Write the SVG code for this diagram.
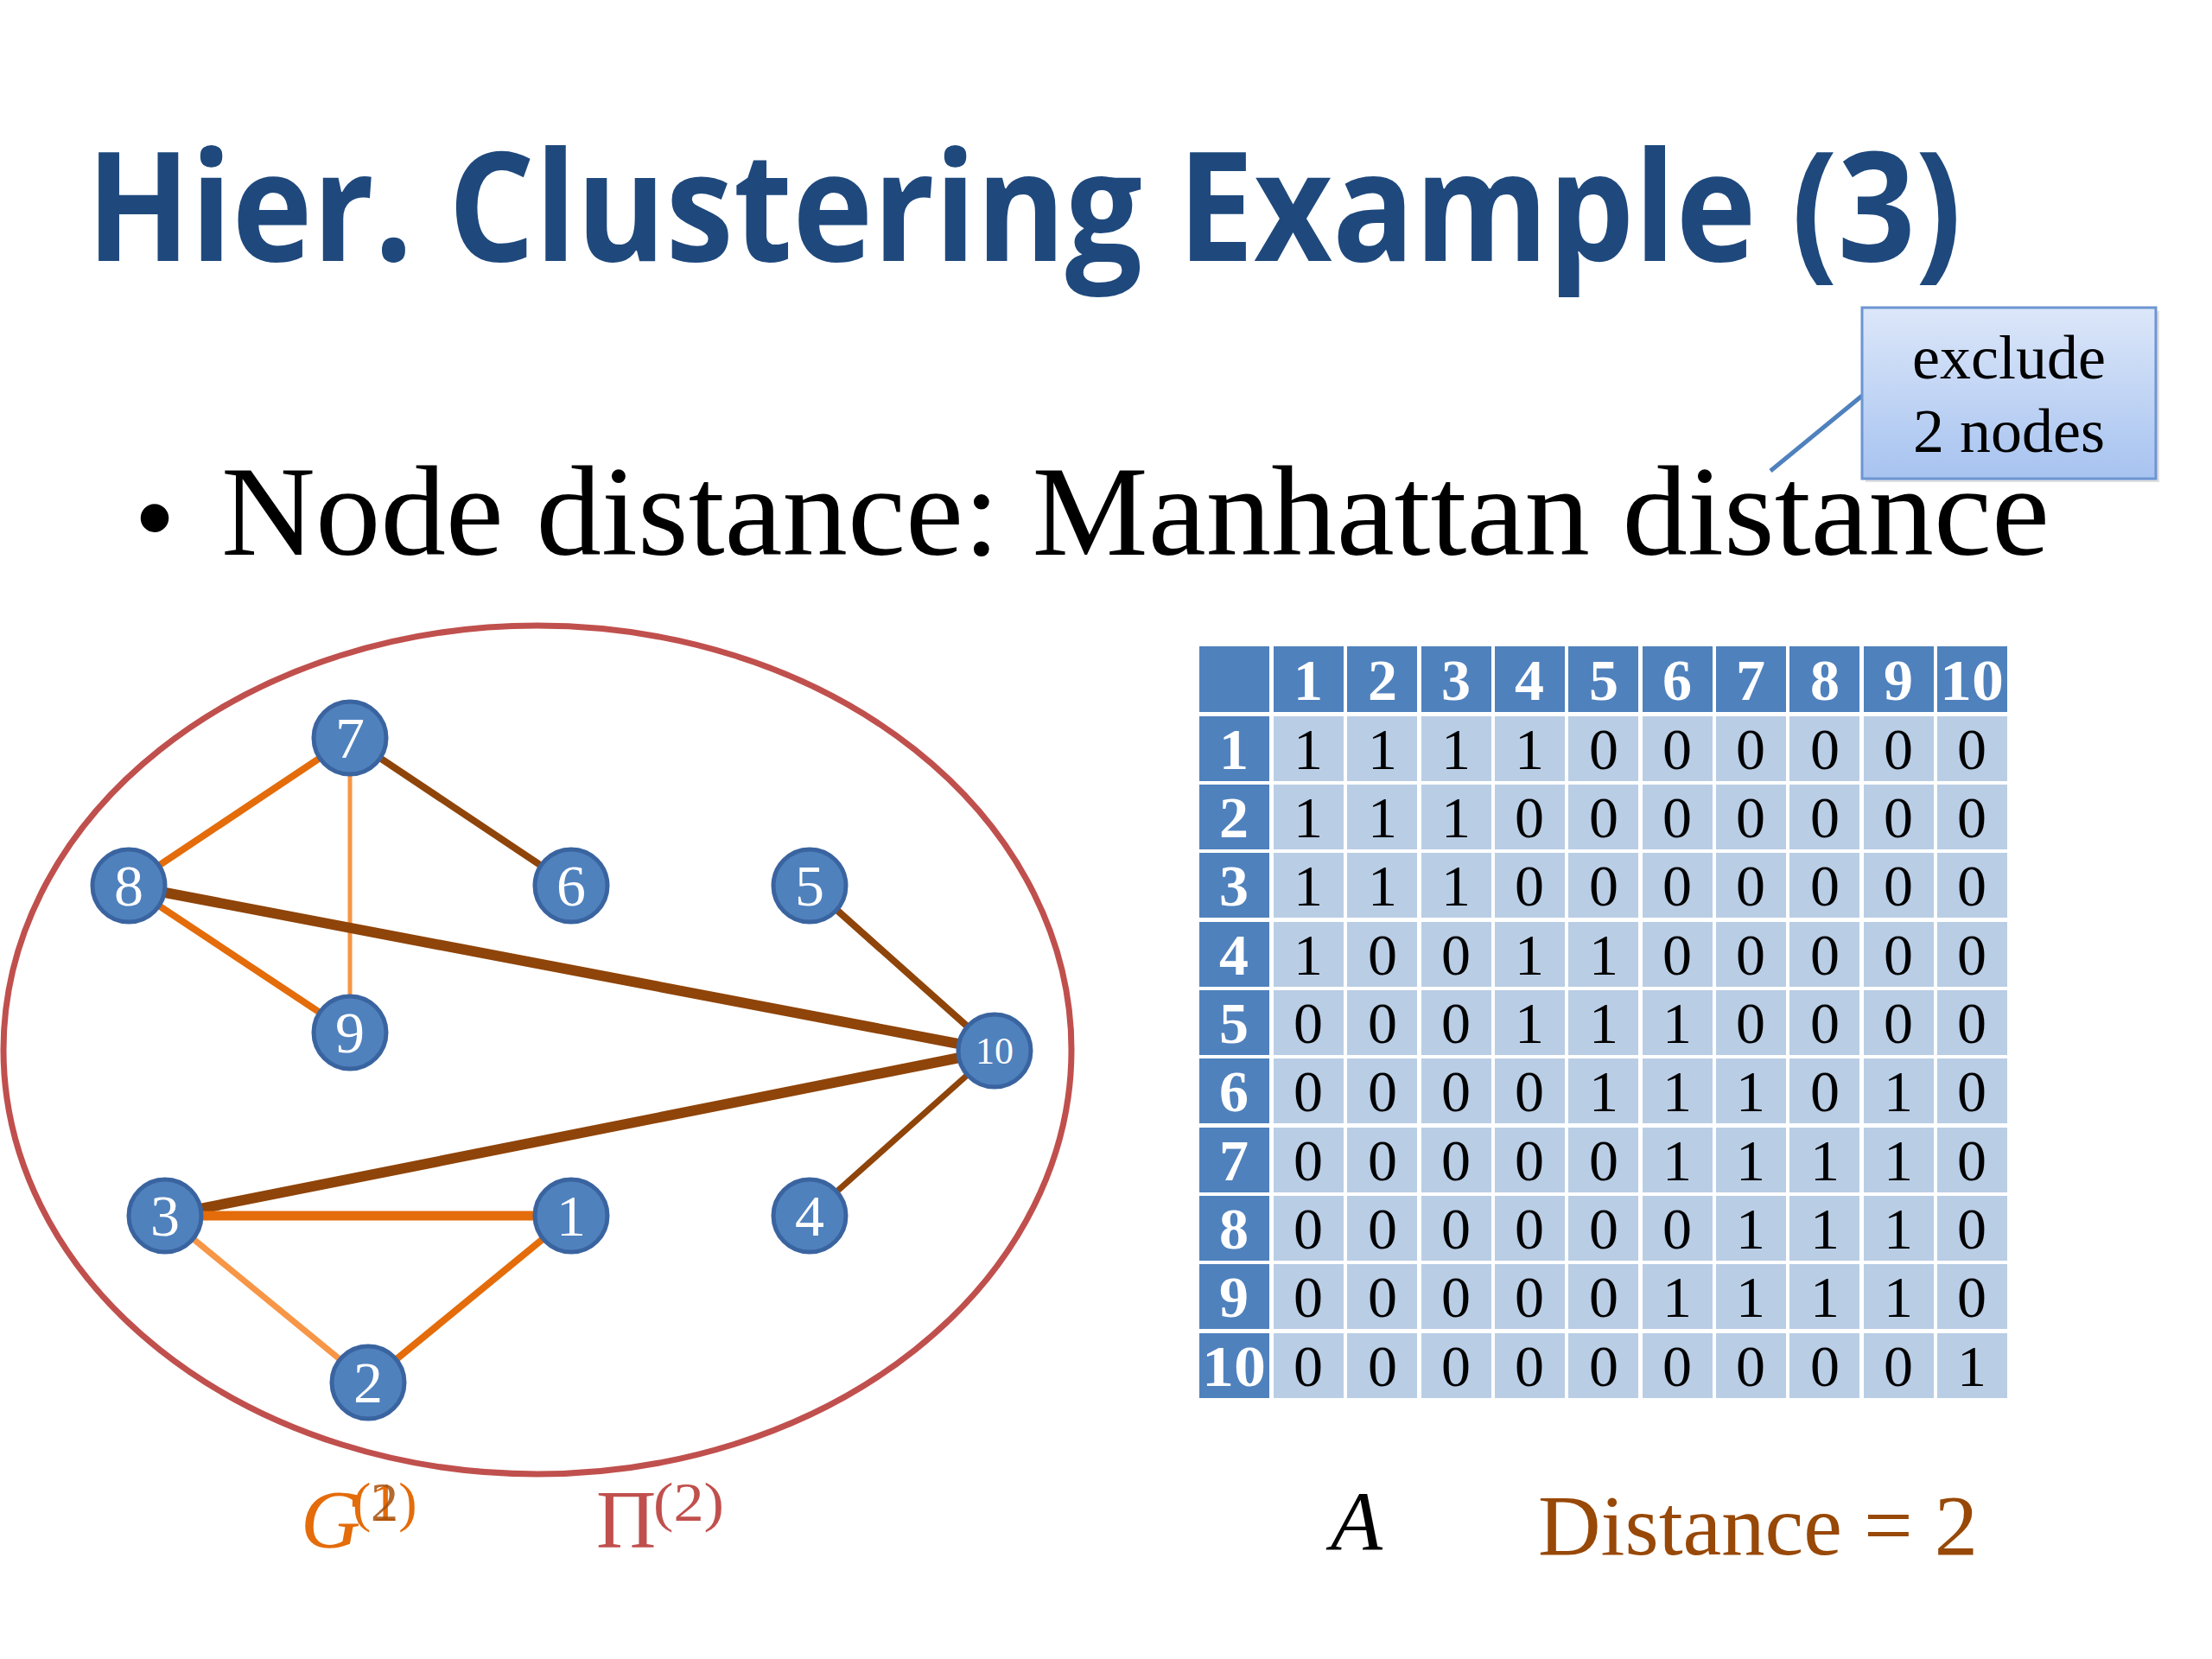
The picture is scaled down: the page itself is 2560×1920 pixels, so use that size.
<svg xmlns="http://www.w3.org/2000/svg" width="2560" height="1920" viewBox="0 0 2560 1920">
<defs>
<linearGradient id="cg" x1="0" y1="0" x2="0" y2="1">
<stop offset="0" stop-color="#dce7f9"/>
<stop offset="1" stop-color="#a7c3f0"/>
</linearGradient>
<style>
.nd{fill:#4f81bd;stroke:#3a64a0;stroke-width:5}
.nt{font-family:"Liberation Serif","DejaVu Serif",serif;font-size:68px;fill:#ffffff;text-anchor:middle}
.nt.sm{font-size:44px}
.br{stroke:#8f4409;fill:none}
.or{stroke:#e46c0a;fill:none}
.lo{stroke:#f79646;fill:none}
.hc{fill:#4f81bd}
.bc{fill:#b9cde5}
.ht{font-family:"Liberation Serif","DejaVu Serif",serif;font-size:68px;font-weight:bold;fill:#ffffff;text-anchor:middle}
.bt{font-family:"Liberation Serif","DejaVu Serif",serif;font-size:68px;fill:#000000;text-anchor:middle}
</style>
</defs>
<rect width="2560" height="1920" fill="#ffffff"/>

<text x="100" y="302" font-family="'Open Sans','Lato',sans-serif" font-weight="bold" font-size="176" fill="#1f497d" textLength="2170" lengthAdjust="spacingAndGlyphs">Hier. Clustering Example (3)</text>

<text x="158" y="640" font-family="'Liberation Sans',sans-serif" font-size="120" fill="#000">•</text>
<text x="256" y="642" font-family="'Liberation Serif','DejaVu Serif',serif" font-size="148" fill="#000" textLength="2116" lengthAdjust="spacingAndGlyphs">Node distance: Manhattan distance</text>

<g id="callout">
<line x1="2155" y1="458" x2="2049" y2="545" stroke="#4f81bd" stroke-width="5"/>
<rect x="2159" y="360" width="340" height="198" fill="#000" opacity="0.12"/>
<rect x="2155" y="356" width="340" height="198" fill="url(#cg)" stroke="#6d95d2" stroke-width="3"/>
<text x="2325" y="438" font-family="'Liberation Serif','DejaVu Serif',serif" font-size="72" fill="#000" text-anchor="middle">exclude</text>
<text x="2325" y="523" font-family="'Liberation Serif','DejaVu Serif',serif" font-size="72" fill="#000" text-anchor="middle">2 nodes</text>
</g>

<g id="cluster">
<ellipse cx="622" cy="1215" rx="618" ry="491" fill="none" stroke="#c0504d" stroke-width="7"/>
</g>

<g id="connectors">
<line class="or" x1="405" y1="854" x2="149" y2="1025" stroke-width="8"/>
<line class="lo" x1="405" y1="854" x2="405" y2="1195" stroke-width="5"/>
<line class="br" x1="405" y1="854" x2="661" y2="1025" stroke-width="8"/>
<line class="or" x1="149" y1="1025" x2="405" y2="1195" stroke-width="8"/>
<line class="br" x1="149" y1="1025" x2="1151" y2="1216" stroke-width="12"/>
<line class="br" x1="937" y1="1025" x2="1151" y2="1216" stroke-width="8"/>
<line class="br" x1="1151" y1="1216" x2="191" y2="1407" stroke-width="12"/>
<line class="br" x1="1151" y1="1216" x2="937" y2="1407" stroke-width="7"/>
<line class="or" x1="191" y1="1407" x2="661" y2="1407" stroke-width="11"/>
<line class="lo" x1="191" y1="1407" x2="426" y2="1600" stroke-width="7"/>
<line class="or" x1="661" y1="1407" x2="426" y2="1600" stroke-width="8"/>
</g>

<g id="n7"><circle class="nd" cx="405" cy="854" r="42"/><text class="nt" x="405" y="877">7</text></g>
<g id="n8"><circle class="nd" cx="149" cy="1025" r="42"/><text class="nt" x="149" y="1048">8</text></g>
<g id="n6"><circle class="nd" cx="661" cy="1025" r="42"/><text class="nt" x="661" y="1048">6</text></g>
<g id="n5"><circle class="nd" cx="937" cy="1025" r="42"/><text class="nt" x="937" y="1048">5</text></g>
<g id="n9"><circle class="nd" cx="405" cy="1195" r="42"/><text class="nt" x="405" y="1218">9</text></g>
<g id="n10"><circle class="nd" cx="1151" cy="1216" r="42"/><text class="nt sm" x="1151" y="1231">10</text></g>
<g id="n3"><circle class="nd" cx="191" cy="1407" r="42"/><text class="nt" x="191" y="1430">3</text></g>
<g id="n1"><circle class="nd" cx="661" cy="1407" r="42"/><text class="nt" x="661" y="1430">1</text></g>
<g id="n4"><circle class="nd" cx="937" cy="1407" r="42"/><text class="nt" x="937" y="1430">4</text></g>
<g id="n2"><circle class="nd" cx="426" cy="1600" r="42"/><text class="nt" x="426" y="1623">2</text></g>

<g id="labels">
<text x="348" y="1791" font-family="'Liberation Serif','DejaVu Serif',serif" font-style="italic" font-size="96" fill="#e46c0a">G</text>
<text x="408" y="1760" font-family="'Liberation Serif','DejaVu Serif',serif" font-size="64" fill="#e46c0a">(1)</text>
<text x="429" y="1760" font-family="'Liberation Serif','DejaVu Serif',serif" font-size="64" fill="#a64f0b" opacity="0.85">2</text>
<text x="690" y="1791" font-family="'Liberation Serif','DejaVu Serif',serif" font-size="96" fill="#c0504d">Π</text>
<text x="756" y="1760" font-family="'Liberation Serif','DejaVu Serif',serif" font-size="64" fill="#c0504d" textLength="82" lengthAdjust="spacingAndGlyphs">(2)</text>
<text x="1540" y="1793" font-family="'Liberation Serif','DejaVu Serif',serif" font-style="italic" font-size="98" fill="#000">A</text>
<text x="1780" y="1799" font-family="'Liberation Serif','DejaVu Serif',serif" font-size="100" fill="#984807" textLength="509" lengthAdjust="spacingAndGlyphs">Distance = 2</text>
</g>

<g id="matrix">
<rect class="hc" x="1388" y="748" width="81" height="76"/>
<rect class="hc" x="1474" y="748" width="81" height="76"/><text class="ht" x="1514" y="810">1</text>
<rect class="hc" x="1559" y="748" width="81" height="76"/><text class="ht" x="1600" y="810">2</text>
<rect class="hc" x="1645" y="748" width="81" height="76"/><text class="ht" x="1685" y="810">3</text>
<rect class="hc" x="1730" y="748" width="81" height="76"/><text class="ht" x="1770" y="810">4</text>
<rect class="hc" x="1815" y="748" width="81" height="76"/><text class="ht" x="1856" y="810">5</text>
<rect class="hc" x="1901" y="748" width="81" height="76"/><text class="ht" x="1941" y="810">6</text>
<rect class="hc" x="1986" y="748" width="81" height="76"/><text class="ht" x="2026" y="810">7</text>
<rect class="hc" x="2071" y="748" width="81" height="76"/><text class="ht" x="2112" y="810">8</text>
<rect class="hc" x="2157" y="748" width="81" height="76"/><text class="ht" x="2197" y="810">9</text>
<rect class="hc" x="2242" y="748" width="81" height="76"/><text class="ht" x="2282" y="810" textLength="74" lengthAdjust="spacingAndGlyphs">10</text>

<g id="row1">
<rect class="hc" x="1388" y="829" width="81" height="75"/><text class="ht" x="1428" y="890">1</text>
<rect class="bc" x="1474" y="829" width="81" height="75"/><text class="bt" x="1514" y="890">1</text>
<rect class="bc" x="1559" y="829" width="81" height="75"/><text class="bt" x="1600" y="890">1</text>
<rect class="bc" x="1645" y="829" width="81" height="75"/><text class="bt" x="1685" y="890">1</text>
<rect class="bc" x="1730" y="829" width="81" height="75"/><text class="bt" x="1770" y="890">1</text>
<rect class="bc" x="1815" y="829" width="81" height="75"/><text class="bt" x="1856" y="890">0</text>
<rect class="bc" x="1901" y="829" width="81" height="75"/><text class="bt" x="1941" y="890">0</text>
<rect class="bc" x="1986" y="829" width="81" height="75"/><text class="bt" x="2026" y="890">0</text>
<rect class="bc" x="2071" y="829" width="81" height="75"/><text class="bt" x="2112" y="890">0</text>
<rect class="bc" x="2157" y="829" width="81" height="75"/><text class="bt" x="2197" y="890">0</text>
<rect class="bc" x="2242" y="829" width="81" height="75"/><text class="bt" x="2282" y="890">0</text>
</g>
<g id="row2">
<rect class="hc" x="1388" y="908" width="81" height="75"/><text class="ht" x="1428" y="969">2</text>
<rect class="bc" x="1474" y="908" width="81" height="75"/><text class="bt" x="1514" y="969">1</text>
<rect class="bc" x="1559" y="908" width="81" height="75"/><text class="bt" x="1600" y="969">1</text>
<rect class="bc" x="1645" y="908" width="81" height="75"/><text class="bt" x="1685" y="969">1</text>
<rect class="bc" x="1730" y="908" width="81" height="75"/><text class="bt" x="1770" y="969">0</text>
<rect class="bc" x="1815" y="908" width="81" height="75"/><text class="bt" x="1856" y="969">0</text>
<rect class="bc" x="1901" y="908" width="81" height="75"/><text class="bt" x="1941" y="969">0</text>
<rect class="bc" x="1986" y="908" width="81" height="75"/><text class="bt" x="2026" y="969">0</text>
<rect class="bc" x="2071" y="908" width="81" height="75"/><text class="bt" x="2112" y="969">0</text>
<rect class="bc" x="2157" y="908" width="81" height="75"/><text class="bt" x="2197" y="969">0</text>
<rect class="bc" x="2242" y="908" width="81" height="75"/><text class="bt" x="2282" y="969">0</text>
</g>
<g id="row3">
<rect class="hc" x="1388" y="987" width="81" height="75"/><text class="ht" x="1428" y="1048">3</text>
<rect class="bc" x="1474" y="987" width="81" height="75"/><text class="bt" x="1514" y="1048">1</text>
<rect class="bc" x="1559" y="987" width="81" height="75"/><text class="bt" x="1600" y="1048">1</text>
<rect class="bc" x="1645" y="987" width="81" height="75"/><text class="bt" x="1685" y="1048">1</text>
<rect class="bc" x="1730" y="987" width="81" height="75"/><text class="bt" x="1770" y="1048">0</text>
<rect class="bc" x="1815" y="987" width="81" height="75"/><text class="bt" x="1856" y="1048">0</text>
<rect class="bc" x="1901" y="987" width="81" height="75"/><text class="bt" x="1941" y="1048">0</text>
<rect class="bc" x="1986" y="987" width="81" height="75"/><text class="bt" x="2026" y="1048">0</text>
<rect class="bc" x="2071" y="987" width="81" height="75"/><text class="bt" x="2112" y="1048">0</text>
<rect class="bc" x="2157" y="987" width="81" height="75"/><text class="bt" x="2197" y="1048">0</text>
<rect class="bc" x="2242" y="987" width="81" height="75"/><text class="bt" x="2282" y="1048">0</text>
</g>
<g id="row4">
<rect class="hc" x="1388" y="1067" width="81" height="75"/><text class="ht" x="1428" y="1128">4</text>
<rect class="bc" x="1474" y="1067" width="81" height="75"/><text class="bt" x="1514" y="1128">1</text>
<rect class="bc" x="1559" y="1067" width="81" height="75"/><text class="bt" x="1600" y="1128">0</text>
<rect class="bc" x="1645" y="1067" width="81" height="75"/><text class="bt" x="1685" y="1128">0</text>
<rect class="bc" x="1730" y="1067" width="81" height="75"/><text class="bt" x="1770" y="1128">1</text>
<rect class="bc" x="1815" y="1067" width="81" height="75"/><text class="bt" x="1856" y="1128">1</text>
<rect class="bc" x="1901" y="1067" width="81" height="75"/><text class="bt" x="1941" y="1128">0</text>
<rect class="bc" x="1986" y="1067" width="81" height="75"/><text class="bt" x="2026" y="1128">0</text>
<rect class="bc" x="2071" y="1067" width="81" height="75"/><text class="bt" x="2112" y="1128">0</text>
<rect class="bc" x="2157" y="1067" width="81" height="75"/><text class="bt" x="2197" y="1128">0</text>
<rect class="bc" x="2242" y="1067" width="81" height="75"/><text class="bt" x="2282" y="1128">0</text>
</g>
<g id="row5">
<rect class="hc" x="1388" y="1146" width="81" height="75"/><text class="ht" x="1428" y="1207">5</text>
<rect class="bc" x="1474" y="1146" width="81" height="75"/><text class="bt" x="1514" y="1207">0</text>
<rect class="bc" x="1559" y="1146" width="81" height="75"/><text class="bt" x="1600" y="1207">0</text>
<rect class="bc" x="1645" y="1146" width="81" height="75"/><text class="bt" x="1685" y="1207">0</text>
<rect class="bc" x="1730" y="1146" width="81" height="75"/><text class="bt" x="1770" y="1207">1</text>
<rect class="bc" x="1815" y="1146" width="81" height="75"/><text class="bt" x="1856" y="1207">1</text>
<rect class="bc" x="1901" y="1146" width="81" height="75"/><text class="bt" x="1941" y="1207">1</text>
<rect class="bc" x="1986" y="1146" width="81" height="75"/><text class="bt" x="2026" y="1207">0</text>
<rect class="bc" x="2071" y="1146" width="81" height="75"/><text class="bt" x="2112" y="1207">0</text>
<rect class="bc" x="2157" y="1146" width="81" height="75"/><text class="bt" x="2197" y="1207">0</text>
<rect class="bc" x="2242" y="1146" width="81" height="75"/><text class="bt" x="2282" y="1207">0</text>
</g>
<g id="row6">
<rect class="hc" x="1388" y="1225" width="81" height="75"/><text class="ht" x="1428" y="1286">6</text>
<rect class="bc" x="1474" y="1225" width="81" height="75"/><text class="bt" x="1514" y="1286">0</text>
<rect class="bc" x="1559" y="1225" width="81" height="75"/><text class="bt" x="1600" y="1286">0</text>
<rect class="bc" x="1645" y="1225" width="81" height="75"/><text class="bt" x="1685" y="1286">0</text>
<rect class="bc" x="1730" y="1225" width="81" height="75"/><text class="bt" x="1770" y="1286">0</text>
<rect class="bc" x="1815" y="1225" width="81" height="75"/><text class="bt" x="1856" y="1286">1</text>
<rect class="bc" x="1901" y="1225" width="81" height="75"/><text class="bt" x="1941" y="1286">1</text>
<rect class="bc" x="1986" y="1225" width="81" height="75"/><text class="bt" x="2026" y="1286">1</text>
<rect class="bc" x="2071" y="1225" width="81" height="75"/><text class="bt" x="2112" y="1286">0</text>
<rect class="bc" x="2157" y="1225" width="81" height="75"/><text class="bt" x="2197" y="1286">1</text>
<rect class="bc" x="2242" y="1225" width="81" height="75"/><text class="bt" x="2282" y="1286">0</text>
</g>
<g id="row7">
<rect class="hc" x="1388" y="1305" width="81" height="75"/><text class="ht" x="1428" y="1366">7</text>
<rect class="bc" x="1474" y="1305" width="81" height="75"/><text class="bt" x="1514" y="1366">0</text>
<rect class="bc" x="1559" y="1305" width="81" height="75"/><text class="bt" x="1600" y="1366">0</text>
<rect class="bc" x="1645" y="1305" width="81" height="75"/><text class="bt" x="1685" y="1366">0</text>
<rect class="bc" x="1730" y="1305" width="81" height="75"/><text class="bt" x="1770" y="1366">0</text>
<rect class="bc" x="1815" y="1305" width="81" height="75"/><text class="bt" x="1856" y="1366">0</text>
<rect class="bc" x="1901" y="1305" width="81" height="75"/><text class="bt" x="1941" y="1366">1</text>
<rect class="bc" x="1986" y="1305" width="81" height="75"/><text class="bt" x="2026" y="1366">1</text>
<rect class="bc" x="2071" y="1305" width="81" height="75"/><text class="bt" x="2112" y="1366">1</text>
<rect class="bc" x="2157" y="1305" width="81" height="75"/><text class="bt" x="2197" y="1366">1</text>
<rect class="bc" x="2242" y="1305" width="81" height="75"/><text class="bt" x="2282" y="1366">0</text>
</g>
<g id="row8">
<rect class="hc" x="1388" y="1384" width="81" height="75"/><text class="ht" x="1428" y="1445">8</text>
<rect class="bc" x="1474" y="1384" width="81" height="75"/><text class="bt" x="1514" y="1445">0</text>
<rect class="bc" x="1559" y="1384" width="81" height="75"/><text class="bt" x="1600" y="1445">0</text>
<rect class="bc" x="1645" y="1384" width="81" height="75"/><text class="bt" x="1685" y="1445">0</text>
<rect class="bc" x="1730" y="1384" width="81" height="75"/><text class="bt" x="1770" y="1445">0</text>
<rect class="bc" x="1815" y="1384" width="81" height="75"/><text class="bt" x="1856" y="1445">0</text>
<rect class="bc" x="1901" y="1384" width="81" height="75"/><text class="bt" x="1941" y="1445">0</text>
<rect class="bc" x="1986" y="1384" width="81" height="75"/><text class="bt" x="2026" y="1445">1</text>
<rect class="bc" x="2071" y="1384" width="81" height="75"/><text class="bt" x="2112" y="1445">1</text>
<rect class="bc" x="2157" y="1384" width="81" height="75"/><text class="bt" x="2197" y="1445">1</text>
<rect class="bc" x="2242" y="1384" width="81" height="75"/><text class="bt" x="2282" y="1445">0</text>
</g>
<g id="row9">
<rect class="hc" x="1388" y="1463" width="81" height="75"/><text class="ht" x="1428" y="1524">9</text>
<rect class="bc" x="1474" y="1463" width="81" height="75"/><text class="bt" x="1514" y="1524">0</text>
<rect class="bc" x="1559" y="1463" width="81" height="75"/><text class="bt" x="1600" y="1524">0</text>
<rect class="bc" x="1645" y="1463" width="81" height="75"/><text class="bt" x="1685" y="1524">0</text>
<rect class="bc" x="1730" y="1463" width="81" height="75"/><text class="bt" x="1770" y="1524">0</text>
<rect class="bc" x="1815" y="1463" width="81" height="75"/><text class="bt" x="1856" y="1524">0</text>
<rect class="bc" x="1901" y="1463" width="81" height="75"/><text class="bt" x="1941" y="1524">1</text>
<rect class="bc" x="1986" y="1463" width="81" height="75"/><text class="bt" x="2026" y="1524">1</text>
<rect class="bc" x="2071" y="1463" width="81" height="75"/><text class="bt" x="2112" y="1524">1</text>
<rect class="bc" x="2157" y="1463" width="81" height="75"/><text class="bt" x="2197" y="1524">1</text>
<rect class="bc" x="2242" y="1463" width="81" height="75"/><text class="bt" x="2282" y="1524">0</text>
</g>
<g id="row10">
<rect class="hc" x="1388" y="1543" width="81" height="75"/><text class="ht" x="1428" y="1604" textLength="74" lengthAdjust="spacingAndGlyphs">10</text>
<rect class="bc" x="1474" y="1543" width="81" height="75"/><text class="bt" x="1514" y="1604">0</text>
<rect class="bc" x="1559" y="1543" width="81" height="75"/><text class="bt" x="1600" y="1604">0</text>
<rect class="bc" x="1645" y="1543" width="81" height="75"/><text class="bt" x="1685" y="1604">0</text>
<rect class="bc" x="1730" y="1543" width="81" height="75"/><text class="bt" x="1770" y="1604">0</text>
<rect class="bc" x="1815" y="1543" width="81" height="75"/><text class="bt" x="1856" y="1604">0</text>
<rect class="bc" x="1901" y="1543" width="81" height="75"/><text class="bt" x="1941" y="1604">0</text>
<rect class="bc" x="1986" y="1543" width="81" height="75"/><text class="bt" x="2026" y="1604">0</text>
<rect class="bc" x="2071" y="1543" width="81" height="75"/><text class="bt" x="2112" y="1604">0</text>
<rect class="bc" x="2157" y="1543" width="81" height="75"/><text class="bt" x="2197" y="1604">0</text>
<rect class="bc" x="2242" y="1543" width="81" height="75"/><text class="bt" x="2282" y="1604">1</text>
</g>
</g>
</svg>
